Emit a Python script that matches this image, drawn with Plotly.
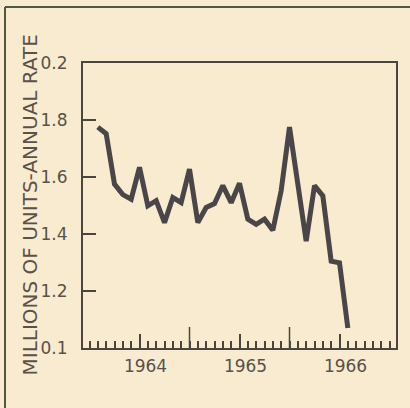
import plotly.graph_objects as go

# ---- data ----
months = ["1964-02", "1964-03", "1964-04", "1964-05", "1964-06", "1964-07", "1964-08",
          "1964-09", "1964-10", "1964-11", "1964-12", "1965-01", "1965-02", "1965-03",
          "1965-04", "1965-05", "1965-06", "1965-07", "1965-08", "1965-09", "1965-10",
          "1965-11", "1965-12", "1966-01", "1966-02", "1966-03", "1966-04", "1966-05",
          "1966-06", "1966-07", "1966-08"]
starts = [1.775, 1.752, 1.575, 1.538, 1.522, 1.634, 1.499, 1.517, 1.44, 1.528, 1.51,
          1.628, 1.44, 1.493, 1.507, 1.57, 1.51, 1.578, 1.452, 1.434, 1.452, 1.413,
          1.552, 1.775, 1.575, 1.375, 1.57, 1.534, 1.305, 1.299, 1.07]
year_labels = ["1964", "1965", "1966"]
y_tick_vals = [1.0, 1.2, 1.4, 1.6, 1.8, 2.0]
y_tick_text = ["0.1", "1.2", "1.4", "1.6", "1.8", "0.2"]
y_title = "MILLIONS OF UNITS-ANNUAL RATE"

# decimal-year positions from the month labels
xs = [int(m[:4]) + (int(m[5:]) - 1) / 12 for m in months]

BG = "#f8ebcf"
INK = "#4a4541"
TXT = "#5a514b"
FONT = "DejaVu Sans"

W, H = 410, 408
L, R, T, B = 83, 14, 63, 60
pw, ph = W - L - R, H - T - B
XR = [1963.935, 1967.065]

fig = go.Figure()
fig.add_trace(go.Scatter(
    x=xs, y=starts, mode="lines",
    line=dict(color="#4a4549", width=5),
    hoverinfo="skip", showlegend=False,
))

years = [int(y) for y in year_labels]
fig.update_layout(
    width=W, height=H,
    margin=dict(l=L, r=R, t=T, b=B, autoexpand=False),
    paper_bgcolor=BG, plot_bgcolor=BG,
    showlegend=False,
    xaxis=dict(
        range=XR, showgrid=False, zeroline=False,
        showline=True, mirror=True, linecolor=INK, linewidth=2,
        tickmode="array", tickvals=[y + 0.5 for y in years], ticktext=year_labels,
        ticks="inside", ticklen=14, tickwidth=1.5, tickcolor=INK,
        ticklabelshift=6, ticklabelstandoff=2,
        tickfont=dict(family=FONT, size=17, color=TXT),
        minor=dict(dtick=1 / 12, tick0=years[0], ticks="inside", ticklen=7,
                   tickwidth=1.5, tickcolor=INK, showgrid=False),
    ),
    yaxis=dict(
        range=[1.0, 2.0], showgrid=False, zeroline=False,
        showline=True, mirror=True, linecolor=INK, linewidth=2,
        tickmode="array", tickvals=y_tick_vals, ticktext=y_tick_text,
        ticks="inside", ticklen=13, tickwidth=1.5, tickcolor=INK,
        ticklabelstandoff=10,
        tickfont=dict(family=FONT, size=17, color=TXT),
    ),
)

# taller ticks at the year boundaries
for yb in years[1:]:
    fig.add_shape(type="line", xref="x", yref="paper", x0=yb, x1=yb,
                  y0=0, y1=21 / ph, line=dict(color=INK, width=1.5))

# vertical axis title
fig.add_annotation(
    text=y_title, textangle=-90, showarrow=False,
    xref="paper", yref="paper", x=(29 - L) / pw, y=0.5,
    xanchor="center", yanchor="middle",
    font=dict(family=FONT, size=20, color=TXT),
)

# outer page frame (left and top rules)
fx = (5 - L) / pw
fy = (H - B - 7) / ph
fig.add_shape(type="line", xref="paper", yref="paper", x0=fx, x1=fx, y0=fy, y1=-0.3,
              line=dict(color="#4f5842", width=2))
fig.add_shape(type="line", xref="paper", yref="paper", x0=fx, x1=1.2, y0=fy, y1=fy,
              line=dict(color="#4f5842", width=2))

fig.write_html(
    "out.html",
    config={"displayModeBar": False},
    post_script="document.body.style.margin='0';document.body.style.background='%s';" % BG,
)
